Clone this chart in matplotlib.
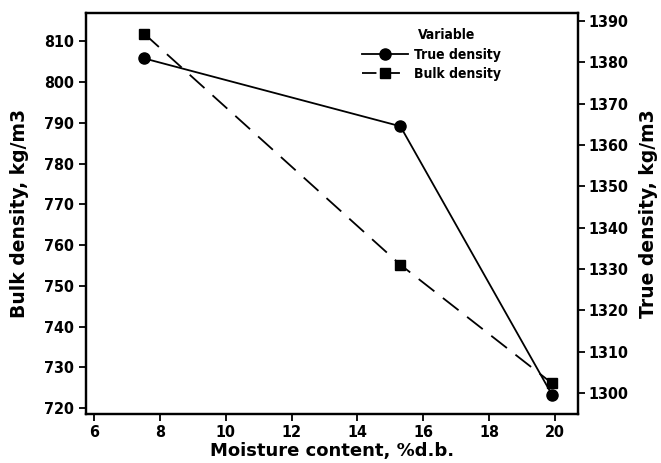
import matplotlib
matplotlib.use("Agg")
import matplotlib.pyplot as plt
from matplotlib.lines import Line2D
from matplotlib.font_manager import FontProperties

moisture = [7.53, 15.3, 19.9]
true_density = [1380.9, 1364.5, 1299.6]
bulk_density = [811.9, 755.2, 726.1]

x_ticks = [6, 8, 10, 12, 14, 16, 18, 20]
left_ticks = [720, 730, 740, 750, 760, 770, 780, 790, 800, 810]
right_ticks = [1300, 1310, 1320, 1330, 1340, 1350, 1360, 1370, 1380, 1390]

tick_fp = FontProperties(family='DejaVu Sans', weight='bold', stretch='condensed', size=11.5)
leg_fp = FontProperties(family='DejaVu Sans', weight='bold', stretch='condensed', size=10)

fig = plt.figure(figsize=(6.61, 4.63), dpi=100)
ax = fig.add_axes([0.1295, 0.1052, 0.7446, 0.8661])
ax2 = ax.twinx()

ax2.plot(moisture, true_density, color='black', lw=1.3, marker='o', ms=8, label='True density')
ax.plot(moisture, bulk_density, color='black', lw=1.3, marker='s', ms=7, dashes=(11, 6), label='Bulk density')

ax.set_xlim(5.755, 20.68)
ax.set_ylim(718.5, 816.9)
ax2.set_ylim(1294.9, 1391.8)

ax.set_xticks(x_ticks)
ax.set_yticks(left_ticks)
ax2.set_yticks(right_ticks)

for a in (ax, ax2):
    for s in a.spines.values():
        s.set_linewidth(1.6)
    a.tick_params(direction='out', length=5, width=1.3, pad=3)
    for lbl in a.get_xticklabels() + a.get_yticklabels():
        lbl.set_fontproperties(tick_fp)

ax.set_xlabel('Moisture content, %d.b.', fontsize=13, fontweight='bold', labelpad=1)
ax.set_ylabel('Bulk density, kg/m3', fontsize=13.5, fontweight='bold', labelpad=11)
ax2.set_ylabel('True density, kg/m3', fontsize=13.5, fontweight='bold', labelpad=7)

handles = [
    Line2D([], [], color='black', lw=1.3, marker='o', ms=8),
    Line2D([], [], color='black', lw=1.3, marker='s', ms=7, dashes=(8, 5)),
]
leg = ax.legend(handles, ['True density', 'Bulk density'],
                loc='upper left', bbox_to_anchor=(0.545, 0.935), frameon=False,
                prop=leg_fp,
                handlelength=3.3, handletextpad=0.4, labelspacing=0.35, borderaxespad=0.2)
ax.text(0.734, 0.946, 'Variable', transform=ax.transAxes, ha='center', va='center',
        fontproperties=leg_fp)

fig.savefig('out.png', dpi=100)
